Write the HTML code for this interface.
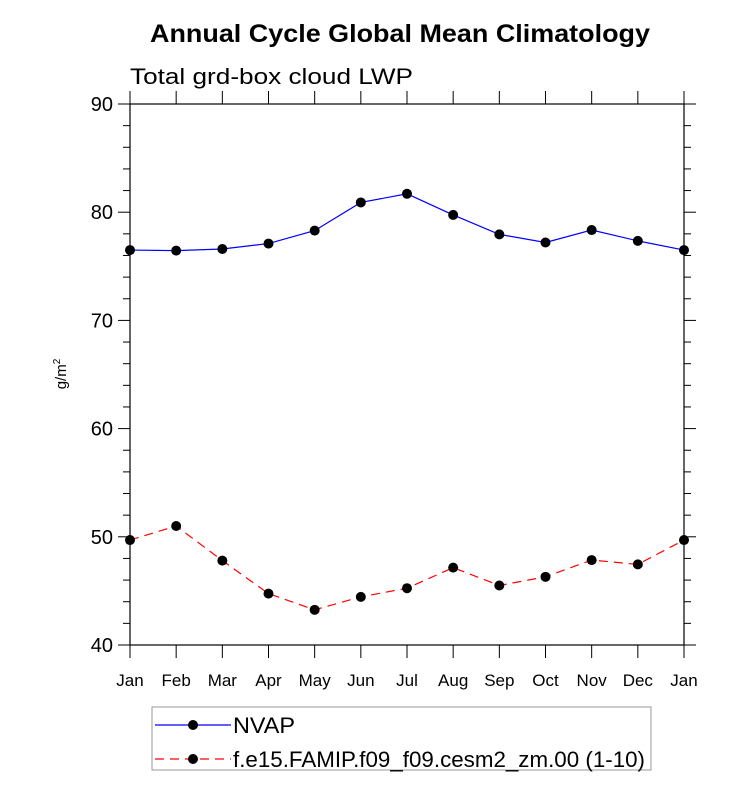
<!DOCTYPE html>
<html><head><meta charset="utf-8"><style>body{margin:0;background:#fff}svg{display:block;font-family:"Liberation Sans",sans-serif}</style></head>
<body>
<svg id="chart" width="733" height="785">
<text x="150" y="42" textLength="500" lengthAdjust="spacingAndGlyphs" font-size="25" font-weight="bold">Annual Cycle Global Mean Climatology</text>
<text x="130" y="84" textLength="283" lengthAdjust="spacingAndGlyphs" font-size="22">Total grd-box cloud LWP</text>
<text transform="translate(66,374) rotate(-90)" text-anchor="middle" font-size="15">g/m<tspan font-size="10" dy="-6">2</tspan></text>
<g id="axes"></g>
<g id="series"></g>
<g id="legend">
<rect x="152" y="707" width="499" height="63" fill="none" stroke="#999" stroke-width="1"/>
<line x1="155" y1="725" x2="231" y2="725" stroke="#0000ff" stroke-width="1.2"/>
<circle cx="193" cy="725" r="5" fill="#000"/>
<text x="233" y="733" textLength="62" lengthAdjust="spacingAndGlyphs" font-size="22">NVAP</text>
<line x1="155" y1="759" x2="231" y2="759" stroke="#ff0000" stroke-width="1.2" stroke-dasharray="9,6"/>
<circle cx="193" cy="759" r="5" fill="#000"/>
<text x="233" y="767" textLength="412" lengthAdjust="spacingAndGlyphs" font-size="22">f.e15.FAMIP.f09_f09.cesm2_zm.00 (1-10)</text>
</g>
</svg>
<script>
const months=["Jan","Feb","Mar","Apr","May","Jun","Jul","Aug","Sep","Oct","Nov","Dec","Jan"];
const nvap=[76.5,76.45,76.6,77.1,78.3,80.9,81.7,79.75,77.95,77.2,78.35,77.35,76.5];
const model=[49.7,51.0,47.8,44.75,43.25,44.45,45.25,47.15,45.5,46.3,47.85,47.45,49.7];
const yTicks=[40,50,60,70,80,90];
const NS="http://www.w3.org/2000/svg";
const L=130,R=684,T=104,B=645;
const xs=i=>L+(R-L)*i/12;
const ys=v=>B-(v-40)/50*(B-T);
function mk(tag,attrs,parent){const e=document.createElementNS(NS,tag);for(const k in attrs)e.setAttribute(k,attrs[k]);parent.appendChild(e);return e;}
const ax=document.getElementById('axes');
const frame=mk('rect',{x:L,y:T,width:R-L,height:B-T,fill:'none',stroke:'#000','stroke-width':1.2},ax);


months.forEach((m,i)=>{
 const x=xs(i);
 mk('line',{x1:x,y1:B,x2:x,y2:B+13,stroke:'#000','stroke-width':1},ax);
 mk('line',{x1:x,y1:T,x2:x,y2:T-13,stroke:'#000','stroke-width':1},ax);
 const t=mk('text',{x:x,y:B+41,'text-anchor':'middle','font-size':17},ax);
 t.textContent=m;
 
 
});
for(let v=40;v<=90;v+=2){
 const y=ys(v),maj=v%10===0,len=maj?12:7;
 mk('line',{x1:L,y1:y,x2:L-len,y2:y,stroke:'#000','stroke-width':1},ax);
 mk('line',{x1:R,y1:y,x2:R+len,y2:y,stroke:'#000','stroke-width':1},ax);
}
yTicks.forEach(v=>{
 const t=mk('text',{x:113,y:ys(v)+7,'text-anchor':'end','font-size':20},ax);
 t.textContent=v;
 
 
});
const sg=document.getElementById('series');
function series(data,color,dash,name){
 const p=mk('polyline',{points:data.map((v,i)=>xs(i)+','+ys(v)).join(' '),fill:'none',stroke:color,'stroke-width':1.2},sg);
 if(dash)p.setAttribute('stroke-dasharray',dash);
 
 
 data.forEach((v,i)=>{
  const c=mk('circle',{cx:xs(i),cy:ys(v),r:5,fill:'#000'},sg);
  
  
 });
}
series(nvap,'#0000ff',null,'nvap');
series(model,'#ff0000','9,6','model');
</script>
</body></html>
